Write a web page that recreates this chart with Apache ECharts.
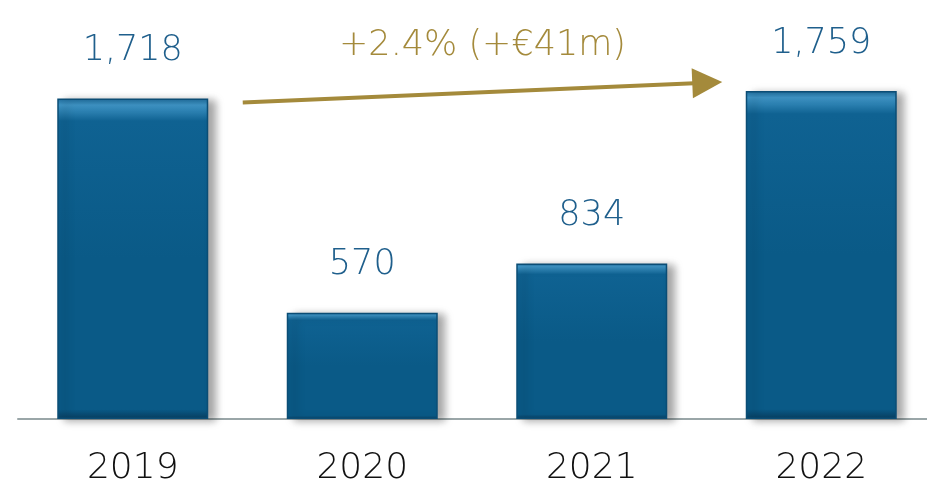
<!DOCTYPE html>
<html>
<head>
<meta charset="utf-8">
<script src="https://cdn.jsdelivr.net/npm/echarts@6/dist/echarts.min.js"></script>
<style>
  html, body { margin: 0; padding: 0; background: #fff; }
  #main { width: 927px; height: 489px; }
</style>
</head>
<body>
<div id="main"></div>
<script>
const years = ['2019', '2020', '2021', '2022']
const values = [1718, 570, 834, 1759]
const valueLabels = ['1,718', '570', '834', '1,759']
const growthText = '+2.4% (+€41m)'

const chart = echarts.init(document.getElementById('main'))

const barFill = new echarts.graphic.LinearGradient(0, 0, 0, 1, [
  { offset: 0, color: '#1f6c9c' },
  { offset: 0.02, color: '#3f95c6' },
  { offset: 0.07, color: '#0f6292' },
  { offset: 0.5, color: '#0a5a87' },
  { offset: 0.97, color: '#0a5a87' },
  { offset: 1, color: '#083f62' }
])

const thinFont = 'DejaVu Sans'

chart.setOption({
  animation: false,
  grid: { left: 18, width: 918, top: 46, bottom: 70, outerBoundsMode: 'none' },
  xAxis: {
    type: 'category',
    data: years,
    axisTick: { show: false },
    axisLine: { show: true, lineStyle: { color: '#9aa6a8', width: 2 } },
    axisLabel: {
      margin: 32,
      color: '#111',
      fontSize: 36,
      fontFamily: thinFont,
      fontWeight: 200
    }
  },
  yAxis: {
    type: 'value',
    min: 0,
    max: 2000,
    show: false,
    splitLine: { show: false }
  },
  series: [{
    type: 'bar',
    data: values,
    barWidth: 151,
    itemStyle: {
      color: barFill,
      borderColor: '#0b4d75',
      borderWidth: 1.5,
      shadowBlur: 8,
      shadowOffsetX: 7,
      shadowOffsetY: 2,
      shadowColor: 'rgba(0,0,0,0.35)'
    },
    label: {
      show: true,
      position: 'top',
      distance: 30,
      color: '#1f5f8c',
      fontSize: 35,
      fontFamily: thinFont,
      fontWeight: 200,
      formatter: p => valueLabels[p.dataIndex]
    }
  }]
})

// growth arrow annotation between first and last bar
const a = chart.convertToPixel({ seriesIndex: 0 }, [years[0], values[0]])
const b = chart.convertToPixel({ seriesIndex: 0 }, [years[3], values[3]])
const x1 = a[0] + 110, y1 = a[1] + 4
const x2 = b[0] - 99, y2 = b[1] - 9
const gold = '#a48a3b'
const ang = Math.atan2(y2 - y1, x2 - x1)
const headLen = 30, headW = 15
const bx = x2 - headLen * Math.cos(ang), by = y2 - headLen * Math.sin(ang)
const nx = -Math.sin(ang), ny = Math.cos(ang)

chart.setOption({
  graphic: [
    {
      type: 'line',
      shape: { x1: x1, y1: y1, x2: bx + 2 * Math.cos(ang), y2: by + 2 * Math.sin(ang) },
      style: { stroke: gold, lineWidth: 4 }
    },
    {
      type: 'polygon',
      shape: { points: [[x2, y2], [bx + nx * headW, by + ny * headW], [bx - nx * headW, by - ny * headW]] },
      style: { fill: gold }
    },
    {
      type: 'text',
      x: (x1 + x2) / 2,
      y: 46,
      style: {
        text: growthText,
        fill: gold,
        font: '200 35px "DejaVu Sans"',
        textAlign: 'center',
        textVerticalAlign: 'middle'
      }
    }
  ]
})
</script>
</body>
</html>
